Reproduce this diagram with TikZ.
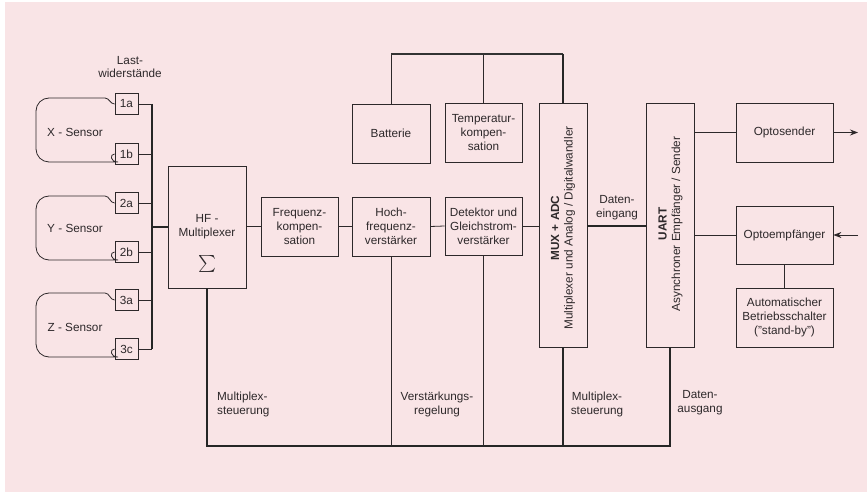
\documentclass[tikz,border=0pt]{standalone}
\usepackage{graphicx}
\usepackage{fontspec}
\setmainfont{Liberation Sans}
\usetikzlibrary{arrows.meta}
\definecolor{bgpink}{RGB}{249,228,230}
\definecolor{ink}{RGB}{45,40,42}
\begin{document}
\begin{tikzpicture}[x=1bp,y=-1bp,
  every node/.style={font=\fontsize{11.8}{14}\selectfont, text=ink},
  box/.style={draw=ink, line width=0.8bp, inner sep=0pt, align=center},
  wire/.style={draw=ink, line width=0.8bp},
  heavy/.style={draw=black!85, line width=2.8bp},
  medium/.style={draw=black!80, line width=2bp},
  lbl/.style={align=center, inner sep=0pt},
  rotlbl/.style={align=center, inner sep=0pt, rotate=90, font=\fontsize{11.8}{13.5}\selectfont},
  sbox/.style={box, minimum width=23bp, minimum height=21bp},
  tip/.style={-{Stealth[length=8bp,width=6bp]}}
]
\useasboundingbox (0,0) rectangle (867,497);
\fill[white] (0,0) rectangle (867,497);
\fill[bgpink] (5,2) rectangle (867,492);

% load resistors
\node[sbox] (s1a) at (126.5,104) {1a};
\node[sbox] (s1b) at (126.5,154) {1b};
\node[sbox] (s2a) at (126.5,203) {2a};
\node[sbox] (s2b) at (126.5,252) {2b};
\node[sbox] (s3a) at (126.5,300) {3a};
\node[sbox] (s3c) at (126.5,349) {3c};
\node[lbl] (lw) at (130,67) {Last-\\widerstände};

% sensors
\draw[wire] (s1a.west) to[out=180,in=0] (105,98) [rounded corners=13bp] -- (36,98) -- (36,162) -- (105,162) [sharp corners] to[out=0,in=180] (s1b.west);
\draw[wire] (s2a.west) to[out=180,in=0] (105,196) [rounded corners=13bp] -- (36,196) -- (36,260) -- (105,260) [sharp corners] to[out=0,in=180] (s2b.west);
\draw[wire] (s3a.west) to[out=180,in=0] (105,293) [rounded corners=13bp] -- (36,293) -- (36,357) -- (105,357) [sharp corners] to[out=0,in=180] (s3c.west);
\node[lbl] (xs) at (75,132) {X - Sensor};
\node[lbl] (ys) at (75,228) {Y - Sensor};
\node[lbl] (zs) at (75,327) {Z - Sensor};

% bus
\coordinate (busT) at (152,104);
\coordinate (busB) at (152,349);
\draw[heavy] (busT) -- (busB);
\foreach \n in {s1a,s1b,s2a,s2b,s3a,s3c} \draw[wire] (\n.east) -- (\n.east -| busT);

% main chain
\node[box, minimum width=78bp, minimum height=122bp] (hf) at (207,227) {};
\node[lbl] (hft) at (207,227) {HF -\\Multiplexer};
\node[lbl] (sig) at (207,264) {\scalebox{1.7}{$\sum$}};
\draw[heavy] (hf.west) -- (hf.west -| busT);

\node[box, minimum width=77bp, minimum height=59bp] (frq) at (299.5,226.5) {Frequenz-\\kompen-\\sation};
\node[box, minimum width=78bp, minimum height=59bp] (hoch) at (391,226.5) {Hoch-\\frequenz-\\verstärker};
\node[box, minimum width=78bp, minimum height=59bp] (batt) at (391,133.5) {Batterie};
\node[box, minimum width=77bp, minimum height=59bp] (temp) at (483.5,132.5) {Temperatur-\\kompen-\\sation};
\node[box, minimum width=77bp, minimum height=58bp] (det) at (483.5,226) {Detektor und\\Gleichstrom-\\verstärker};

\node[box, minimum width=48bp, minimum height=244bp] (mux) at (563,225) {};
\node[rotlbl] (muxt) at (563,228) {\textbf{MUX + ADC}\\Multiplexer und Analog / Digitalwandler};
\node[box, minimum width=48bp, minimum height=244bp] (uart) at (670,225) {};
\node[rotlbl] (uartt) at (670.5,224) {\textbf{UART}\\Asynchroner Empfänger / Sender};

\node[box, minimum width=97bp, minimum height=59bp] (opts) at (784.5,132.5) {Optosender};
\node[box, minimum width=97bp, minimum height=58bp] (opte) at (784.5,235) {Optoempfänger};
\node[box, minimum width=97bp, minimum height=59bp] (auto) at (784.5,317.5) {Automatischer\\Betriebsschalter\\("stand-by")};

% chain wires
\draw[wire] (hf.east |- frq.west) -- (frq.west);
\draw[wire] (frq.east) -- (hoch.west);
\draw[wire] (hoch.east) -- (det.west);
\draw[wire] (det.east) -- (det.east -| mux.west);
\draw[heavy] (mux.east |- det.east) -- (uart.west |- det.east);
\node[lbl] (dein) at (617,208) {Daten-\\eingang};

% top line
\coordinate (topY) at (0,54);
\draw[wire] (batt.north) -- (batt.north |- topY);
\draw[wire] (temp.north) -- (temp.north |- topY);
\draw[medium] (batt.north |- topY) -- (mux.north |- topY);
\draw[heavy] (mux.north |- topY) -- (mux.north);

% bottom line
\coordinate (botY) at (0,446);
\draw[heavy] (hf.south) -- (hf.south |- botY) -- (uart.south |- botY) -- (uart.south);
\draw[heavy] (mux.south) -- (mux.south |- botY);
\draw[wire] (hoch.south) -- (hoch.south |- botY);
\draw[wire] (det.south) -- (det.south |- botY);

\node[lbl, anchor=west, align=left] (mps1) at (217,404) {Multiplex-\\steuerung};
\node[lbl] (vr) at (437,404) {Verstärkungs-\\regelung};
\node[lbl] (mps2) at (597,404) {Multiplex-\\steuerung};
\node[lbl] (daus) at (700,403) {Daten-\\ausgang};

% right side
\draw[wire] (opts.west -| uart.east) -- (opts.west);
\draw[wire] (opte.west -| uart.east) -- (opte.west);
\draw[wire] (opte.south) -- (auto.north);
\coordinate (outR) at (858,132.5);
\coordinate (inR) at (858,235);
\draw[wire, tip] (opts.east) -- (outR);
\draw[wire, tip] (inR) -- (opte.east);
\end{tikzpicture}
\end{document}
